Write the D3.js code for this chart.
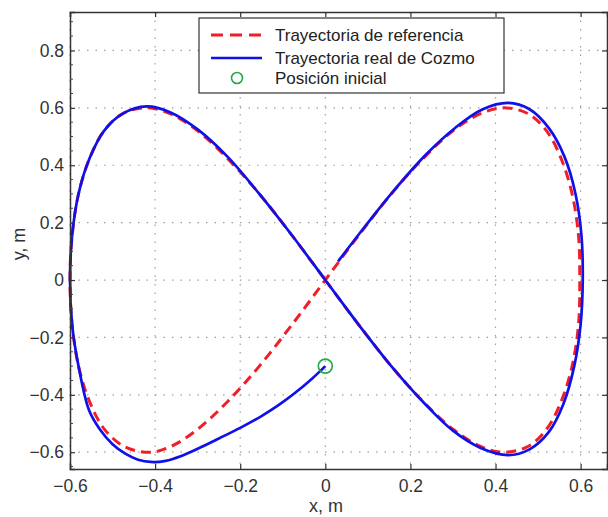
<!DOCTYPE html>
<html>
<head>
<meta charset="utf-8">
<script src="https://cdn.jsdelivr.net/npm/d3@7"></script>
<style>
  body { margin: 0; background: #fff; }
  svg { font-family: "Liberation Sans", Arial, sans-serif; }
</style>
</head>
<body>
<svg id="chart" width="608" height="517"></svg>
<script>
// reference trajectory (x, y in metres)
var refX = [0, 0.078, 0.155, 0.230, 0.300, 0.365, 0.42, 0.476, 0.520, 0.554, 0.580, 0.595, 0.598,
            0.595, 0.580, 0.554, 0.520, 0.476, 0.42, 0.365, 0.300, 0.230, 0.155, 0.078, 0,
            -0.078, -0.155, -0.230, -0.300, -0.360, -0.41, -0.470, -0.518, -0.554, -0.580, -0.595, -0.600,
            -0.595, -0.580, -0.554, -0.520, -0.476, -0.42, -0.365, -0.300, -0.230, -0.155, -0.078, 0];
var refY = [0, -0.155, -0.300, -0.424, -0.520, -0.580, -0.600, -0.580, -0.520, -0.424, -0.300, -0.155, 0,
            0.155, 0.300, 0.424, 0.520, 0.580, 0.600, 0.580, 0.520, 0.424, 0.300, 0.155, 0,
            -0.155, -0.300, -0.424, -0.520, -0.578, -0.600, -0.582, -0.522, -0.424, -0.300, -0.155, 0,
            0.155, 0.300, 0.424, 0.520, 0.580, 0.600, 0.580, 0.520, 0.424, 0.300, 0.155, 0];

// real Cozmo trajectory
var realX = [0, -0.03, -0.07, -0.11, -0.15, -0.20, -0.25, -0.30, -0.34, -0.375, -0.41, -0.44, -0.47, -0.50, -0.53, -0.555,
             -0.58, -0.595, -0.6, -0.595, -0.58, -0.554, -0.52, -0.476, -0.42, -0.365, -0.30, -0.23, -0.155, -0.078,
             0, 0.078, 0.155, 0.23, 0.30, 0.365, 0.43, 0.48, 0.525, 0.56, 0.585, 0.60, 0.605,
             0.602, 0.588, 0.562, 0.525, 0.48, 0.43, 0.37, 0.305, 0.235, 0.16, 0.095, 0.03];
var realY = [-0.30, -0.342, -0.392, -0.436, -0.474, -0.515, -0.552, -0.588, -0.614, -0.630, -0.634, -0.626, -0.605, -0.572, -0.52, -0.455,
             -0.30, -0.155, 0, 0.155, 0.30, 0.424, 0.52, 0.58, 0.605, 0.585, 0.525, 0.43, 0.30, 0.155,
             0, -0.155, -0.30, -0.425, -0.525, -0.585, -0.61, -0.59, -0.53, -0.43, -0.30, -0.155, 0,
             0.155, 0.30, 0.43, 0.53, 0.595, 0.617, 0.595, 0.53, 0.435, 0.31, 0.19, 0.065];

var startPoint = [0, -0.30];

var xTicks = [-0.6, -0.4, -0.2, 0, 0.2, 0.4, 0.6];
var yTicks = [-0.6, -0.4, -0.2, 0, 0.2, 0.4, 0.6, 0.8];
var legendLabels = ["Trayectoria de referencia", "Trayectoria real de Cozmo", "Posición inicial"];

var svg = d3.select("#chart");
var pLeft = 70, pRight = 607, pTop = 12, pBottom = 469;

var x = d3.scaleLinear().domain([-0.6, 0.662]).range([pLeft, pRight]);
var y = d3.scaleLinear().domain([-0.6585, 0.934]).range([pBottom, pTop]);

function fmt(d) { return d === 0 ? "0" : d3.format(".1f")(d).replace("-", "\u2212"); }

// grid
var grid = svg.append("g").attr("class", "grid");
grid.selectAll("line.gx").data(xTicks).enter().append("line")
  .attr("x1", function(d) { return x(d); }).attr("x2", function(d) { return x(d); })
  .attr("y1", pTop).attr("y2", pBottom);
grid.selectAll("line.gy").data(yTicks).enter().append("line")
  .attr("x1", pLeft).attr("x2", pRight)
  .attr("y1", function(d) { return y(d); }).attr("y2", function(d) { return y(d); });
grid.selectAll("line")
  .attr("stroke", "#a0a0a0").attr("stroke-width", 1.2)
  .attr("stroke-dasharray", "1.5,7");

// curves
var line = d3.line()
  .x(function(d) { return x(d[0]); })
  .y(function(d) { return y(d[1]); })
  .curve(d3.curveCatmullRom.alpha(0.5));

var refPts = refX.map(function(v, i) { return [v, refY[i]]; });
var realPts = realX.map(function(v, i) { return [v, realY[i]]; });

svg.append("path").datum(refPts)
  .attr("d", line)
  .attr("fill", "none")
  .attr("stroke", "#f01e28")
  .attr("stroke-width", 3)
  .attr("stroke-dasharray", "10,6");

svg.append("path").datum(realPts)
  .attr("d", line)
  .attr("fill", "none")
  .attr("stroke", "#1010e8")
  .attr("stroke-width", 2.7);

svg.append("circle")
  .attr("cx", x(startPoint[0])).attr("cy", y(startPoint[1]))
  .attr("r", 7)
  .attr("fill", "none")
  .attr("stroke", "#22a845")
  .attr("stroke-width", 1.6);

// axes
var axB = svg.append("g").attr("transform", "translate(0," + pBottom + ")")
  .call(d3.axisBottom(x).tickValues(xTicks).tickSize(-5).tickPadding(11).tickFormat(fmt));
var axT = svg.append("g").attr("transform", "translate(0," + pTop + ")")
  .call(d3.axisTop(x).tickValues(xTicks).tickSize(-5).tickFormat(""));
var axL = svg.append("g").attr("transform", "translate(" + pLeft + ",0)")
  .call(d3.axisLeft(y).tickValues(yTicks).tickSize(-5).tickPadding(6).tickFormat(fmt));
var axR = svg.append("g").attr("transform", "translate(" + pRight + ",0)")
  .call(d3.axisRight(y).tickValues(yTicks).tickSize(-5).tickFormat(""));

// minor ticks on the left axis
var minor = d3.range(-0.65, 0.93, 0.05).filter(function(v) {
  return Math.abs(Math.round(v * 5) - v * 5) > 0.01;
});
svg.append("g").selectAll("line").data(minor).enter().append("line")
  .attr("x1", pLeft).attr("x2", pLeft + 3)
  .attr("y1", function(d) { return y(d); }).attr("y2", function(d) { return y(d); })
  .attr("stroke", "#444").attr("stroke-width", 1);

[axB, axT, axL, axR].forEach(function(a) {
  a.select(".domain").attr("stroke", "#333").attr("stroke-width", 1.5);
  a.selectAll(".tick line").attr("stroke", "#333").attr("stroke-width", 1.2);
  a.selectAll(".tick text").attr("fill", "#333").style("font-size", "17.5px");
});

// axis labels
svg.append("text")
  .attr("x", 326).attr("y", 512)
  .attr("text-anchor", "middle")
  .attr("fill", "#333").style("font-size", "18px")
  .text("x, m");
svg.append("text")
  .attr("transform", "translate(25,244) rotate(-90)")
  .attr("text-anchor", "middle")
  .attr("fill", "#333").style("font-size", "18px")
  .text("y, m");

// legend
var lg = svg.append("g");
lg.append("rect")
  .attr("x", 199).attr("y", 18).attr("width", 305).attr("height", 75)
  .attr("fill", "#fff").attr("stroke", "#333").attr("stroke-width", 1.2);
var rowY = [35, 58, 78];
lg.append("line").attr("x1", 211).attr("x2", 262).attr("y1", rowY[0]).attr("y2", rowY[0])
  .attr("stroke", "#f01e28").attr("stroke-width", 3).attr("stroke-dasharray", "12,7");
lg.append("line").attr("x1", 211).attr("x2", 262).attr("y1", rowY[1]).attr("y2", rowY[1])
  .attr("stroke", "#1010e8").attr("stroke-width", 2.7);
lg.append("circle").attr("cx", 237).attr("cy", rowY[2]).attr("r", 5.5)
  .attr("fill", "none").attr("stroke", "#22a845").attr("stroke-width", 1.6);
lg.selectAll("text.lab").data(legendLabels).enter().append("text")
  .attr("x", 275)
  .attr("y", function(d, i) { return rowY[i] + 6; })
  .attr("fill", "#222").style("font-size", "17px")
  .text(function(d) { return d; });
</script>
</body>
</html>
